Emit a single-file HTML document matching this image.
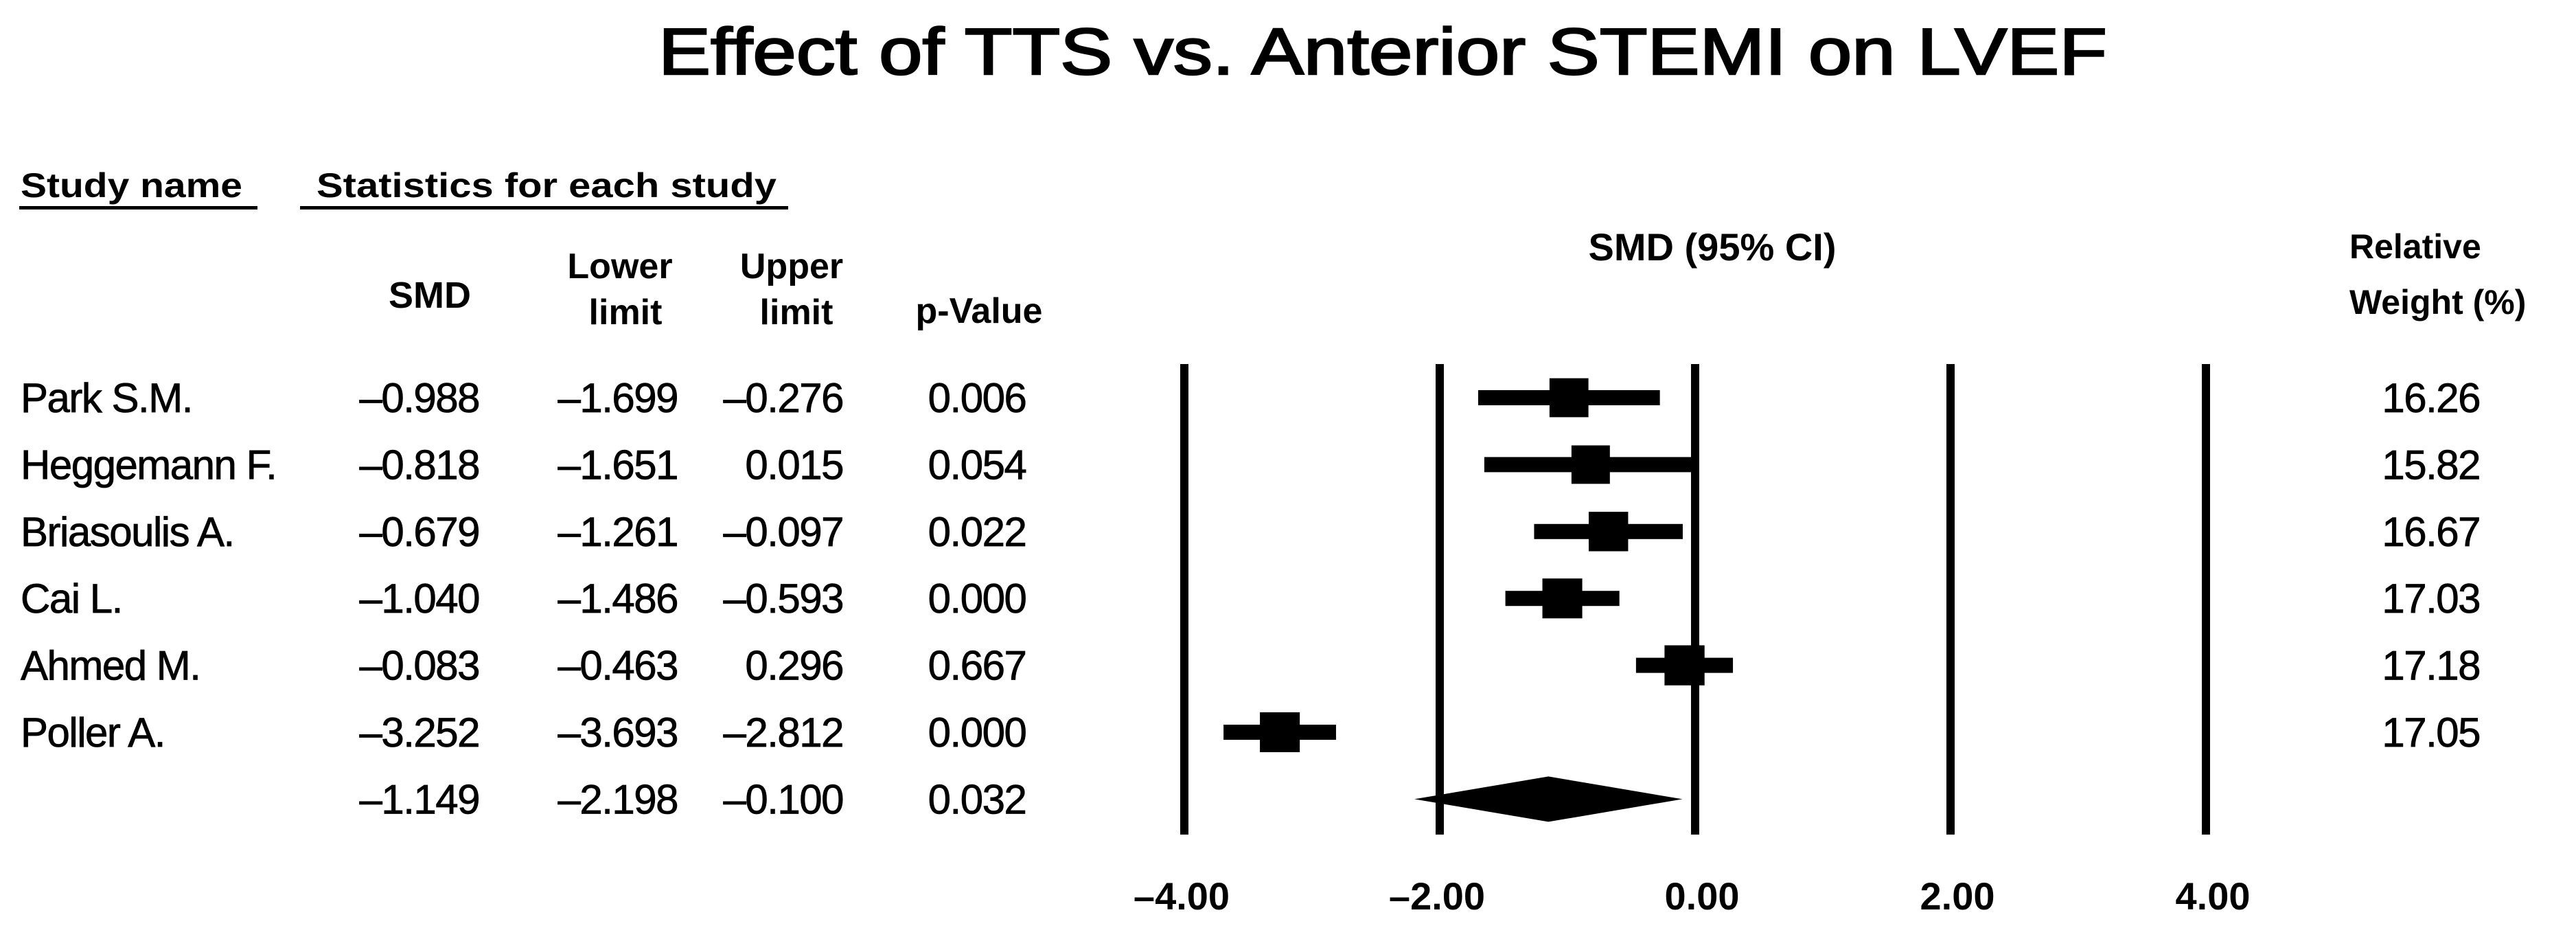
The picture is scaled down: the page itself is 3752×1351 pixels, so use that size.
<!DOCTYPE html>
<html><head><meta charset="utf-8"><style>
html,body{margin:0;padding:0;background:#fff;}
svg{display:block;font-family:"Liberation Sans",Arial,sans-serif;}
.b{font-weight:bold;}
.r{font-size:60px;letter-spacing:-1.5px;stroke:#000;stroke-width:0.8px;}
</style></head><body>
<svg id="chart" width="3752" height="1351" viewBox="0 0 3752 1351" xmlns="http://www.w3.org/2000/svg">
<rect width="3752" height="1351" fill="#fff"/>
<text x="959" y="108" font-size="96" stroke="#000" stroke-width="2.5" textLength="2110" lengthAdjust="spacingAndGlyphs">Effect of TTS vs. Anterior STEMI on LVEF</text>
<text class="b" x="30" y="287" font-size="50" textLength="323" lengthAdjust="spacingAndGlyphs">Study name</text>
<rect x="28" y="300" width="347" height="5" fill="#000"/>
<text class="b" x="461" y="287" font-size="50" textLength="670" lengthAdjust="spacingAndGlyphs">Statistics for each study</text>
<rect x="437" y="300" width="711" height="5" fill="#000"/>
<text class="b" x="626" y="448" font-size="54" text-anchor="middle">SMD</text>
<text class="b" x="903" y="405" font-size="52" text-anchor="middle">Lower</text>
<text class="b" x="911" y="472" font-size="52" text-anchor="middle">limit</text>
<text class="b" x="1153" y="405" font-size="52" text-anchor="middle">Upper</text>
<text class="b" x="1160" y="472" font-size="52" text-anchor="middle">limit</text>
<text class="b" x="1426" y="470" font-size="52" text-anchor="middle">p-Value</text>
<text class="b" x="2494" y="379" font-size="56" text-anchor="middle">SMD (95% CI)</text>
<text class="b" x="3422" y="376" font-size="50">Relative</text>
<text class="b" x="3422" y="457" font-size="50">Weight (%)</text>
<g id="plot"></g>
</svg>
<script>
const studies = ["Park S.M.", "Heggemann F.", "Briasoulis A.", "Cai L.", "Ahmed M.", "Poller A."];
const smd = [-0.988, -0.818, -0.679, -1.040, -0.083, -3.252];
const lower = [-1.699, -1.651, -1.261, -1.486, -0.463, -3.693];
const upper = [-0.276, 0.015, -0.097, -0.593, 0.296, -2.812];
const pvals = ["0.006", "0.054", "0.022", "0.000", "0.667", "0.000"];
const weights = [16.26, 15.82, 16.67, 17.03, 17.18, 17.05];
const summary = [-1.149, -2.198, -0.100];
const summaryP = "0.032";
const ticks = [-4, -2, 0, 2, 4];

const NS = "http://www.w3.org/2000/svg";
const g = document.getElementById('plot');
const x = v => 2469 + v * 186;
const rowY = i => 579 + i * 97.4;
function mk(tag, attrs, parent) {
  const e = document.createElementNS(NS, tag);
  for (const k in attrs) e.setAttribute(k, attrs[k]);
  (parent || g).appendChild(e);
  return e;
}
function fmtDot(v) { return (v < 0 ? "\u2013" : "") + Math.abs(v).toFixed(3); }

ticks.forEach(t => {
  const l = mk('line', {x1: x(t), x2: x(t), y1: 530, y2: 1215, stroke: '#000', 'stroke-width': 12});
  
  
  const tx = mk('text', {x: x(t) + (t >= 0 ? 10 : -4), y: 1324, 'font-size': 56, 'font-weight': 'bold', 'text-anchor': 'middle'});
  tx.textContent = (t < 0 ? "\u2013" : "") + Math.abs(t).toFixed(2);
  
  
});

function txt(str, xx, yy, anchor, name) {
  const t = mk('text', {x: xx, y: yy, 'text-anchor': anchor, class: 'r'});
  t.textContent = str;
  
  
  return t;
}

studies.forEach((s, i) => {
  const cy = rowY(i);
  const by = cy + 21;
  txt(s, 30, by, 'start', 'study-name');
  txt(fmtDot(smd[i]), 698, by, 'end', 'smd-value');
  txt(fmtDot(lower[i]), 987, by, 'end', 'lower-limit-value');
  txt(fmtDot(upper[i]), 1228, by, 'end', 'upper-limit-value');
  txt(pvals[i], 1423, by, 'middle', 'p-value');
  txt(weights[i].toFixed(2), 3612, by, 'end', 'weight-value');
  const ci = mk('rect', {x: x(lower[i]), y: cy - 11, width: x(upper[i]) - x(lower[i]), height: 22, fill: '#000'});
  
  
  const sz = 58 * Math.sqrt(weights[i] / 17);
  const sq = mk('rect', {x: x(smd[i]) - sz / 2, y: cy - sz / 2, width: sz, height: sz, fill: '#000'});
  
  
});

const sy = rowY(6);
txt(fmtDot(summary[0]), 698, sy + 21, 'end', 'summary-smd');
txt(fmtDot(summary[1]), 987, sy + 21, 'end', 'summary-lower');
txt(fmtDot(summary[2]), 1228, sy + 21, 'end', 'summary-upper');
txt(summaryP, 1423, sy + 21, 'middle', 'summary-p-value');
const dm = mk('polygon', {points: [x(summary[1]) + ',' + sy, x(summary[0]) + ',' + (sy - 33), x(summary[2]) + ',' + sy, x(summary[0]) + ',' + (sy + 33)].join(' '), fill: '#000'});


</script>
</body></html>
